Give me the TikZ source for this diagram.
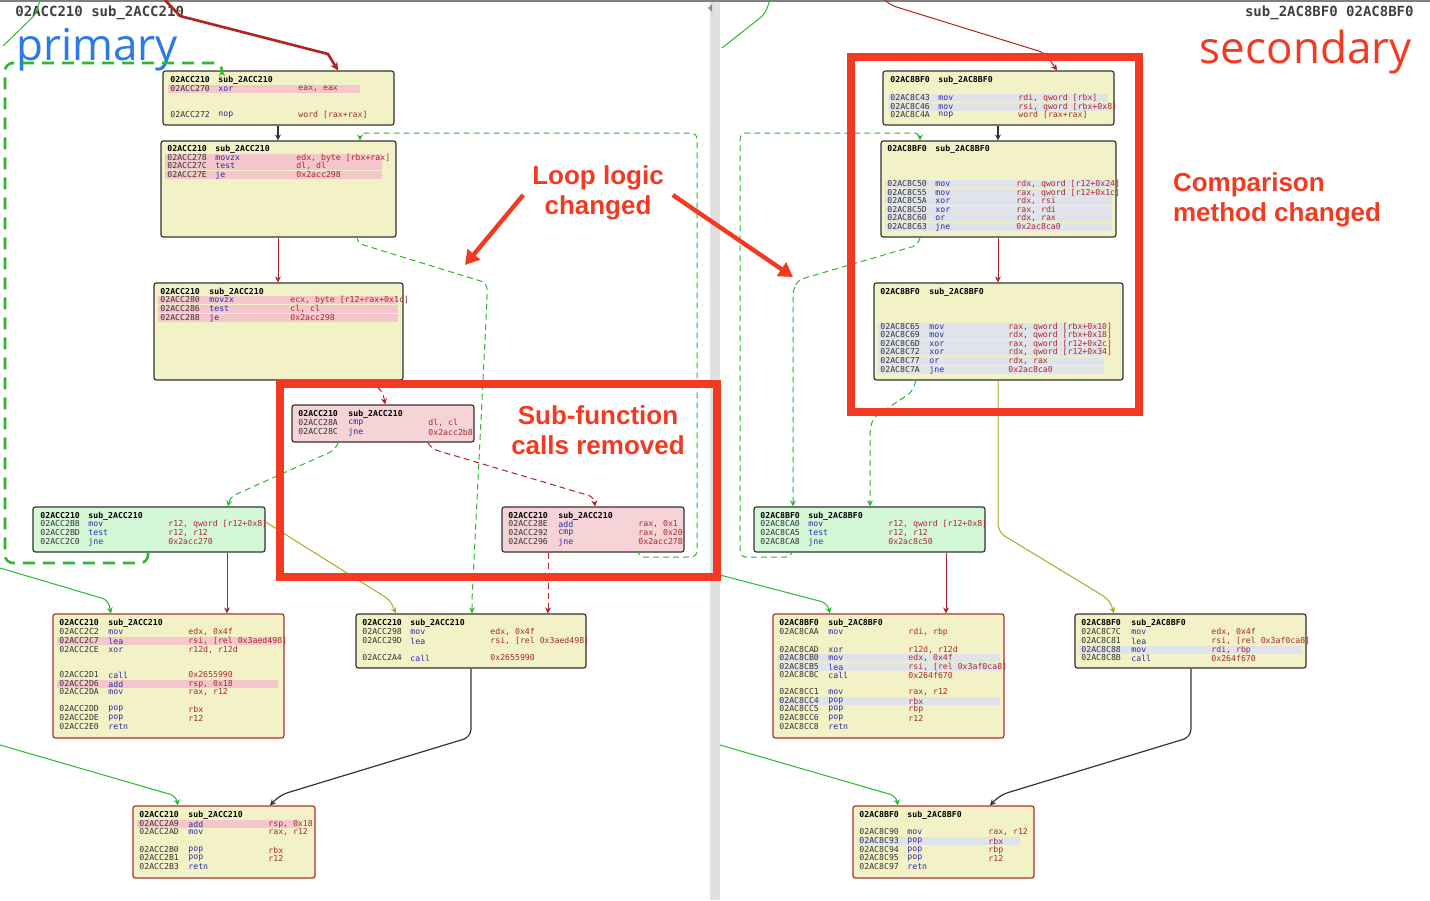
\documentclass[tikz,border=0pt]{standalone}
\usepackage{fontspec}
\setmainfont{Liberation Sans}
\newfontfamily\mono{DejaVu Sans Mono}
\newfontfamily\titlefont{Open Sans}
\usetikzlibrary{arrows.meta,fit}
\definecolor{yfill}{HTML}{F2F2C6}
\definecolor{gfill}{HTML}{D4F7D8}
\definecolor{pfill}{HTML}{F5D3D6}
\definecolor{phl}{HTML}{F5C6CB}
\definecolor{ghl}{HTML}{E0E3EA}
\definecolor{bord}{HTML}{333333}
\definecolor{rbord}{HTML}{A83232}
\definecolor{mncol}{HTML}{2B2BA8}
\definecolor{opcol}{HTML}{A82A2A}
\definecolor{adcol}{HTML}{333333}
\definecolor{egreen}{HTML}{2DB82D}
\definecolor{ered}{HTML}{B22222}
\definecolor{eolive}{HTML}{B0A820}
\definecolor{annred}{HTML}{F23A22}
\definecolor{pblue}{HTML}{2A7BE8}
\newcounter{rc}
\tikzset{
  x=0.5pt,y=-0.5pt,
  blk/.style={draw=bord,line width=0.6pt,rounded corners=1.2pt,inner sep=0pt},
  txt/.style={anchor=west,inner sep=0pt,font=\mono\fontsize{4.1}{4.1}\selectfont},
  tip/.style={-{Stealth[length=3pt,width=3pt]}},
  eg/.style={egreen,line width=0.5pt,tip},
  egd/.style={egreen,line width=0.5pt,dashed,dash pattern=on 3pt off 2pt,tip},
  erd/.style={ered,line width=0.5pt,dashed,dash pattern=on 3pt off 2pt,tip},
  er/.style={ered,line width=0.5pt,tip},
  eo/.style={eolive,line width=0.5pt,tip},
  ek/.style={black!80,line width=0.6pt,tip},
  ann/.style={annred,line width=2.2pt,-{Triangle[length=7pt,width=8pt]}},
  annbox/.style={draw=annred,line width=4pt},
  lab/.style={text=annred,font=\bfseries\fontsize{13}{15}\selectfont,align=center}
}
% column settings
\newcommand\cols[4]{\def\ca{#1}\def\cm{#2}\def\co{#3}\def\he{#4}}
\newcommand\hd[3]{\stepcounter{rc}\node[txt,text=black,font=\mono\bfseries\fontsize{4.1}{4.1}\selectfont] (r\arabic{rc}) at (\ca,#1) {#2};
  \stepcounter{rc}\node[txt,text=black,font=\mono\bfseries\fontsize{4.1}{4.1}\selectfont] (r\arabic{rc}) at (\cm,#1) {#3};}
\newcommand\rw[4]{\stepcounter{rc}\node[txt,text=adcol] (r\arabic{rc}) at (\ca,#1) {#2};
  \stepcounter{rc}\node[txt,text=mncol] (r\arabic{rc}) at (\cm,#1) {#3};
  \stepcounter{rc}\node[txt,text=opcol] (r\arabic{rc}) at (\co,#1) {#4};}
\newcommand\hl[2]{\fill[#2] (\ca-2,#1-4.3) rectangle (\he,#1+4.3);}
\begin{document}
\begin{tikzpicture}
\useasboundingbox (0,0) rectangle (1430,900);
\fill[white] (0,0) rectangle (1430,900);
% separator and top line
\fill[black!12] (710,0) rectangle (720,900);
\fill[black!45] (712,4) -- (712,12) -- (708,8) -- cycle;
\draw[black!50,line width=0.6pt] (0,1) -- (1430,1);
% titles
\node[anchor=west,inner sep=0,text=black!75,font=\mono\bfseries\fontsize{7}{7}\selectfont] (tl) at (15,13) {02ACC210 sub\_2ACC210};
\node[anchor=east,inner sep=0,text=black!75,font=\mono\bfseries\fontsize{7}{7}\selectfont] (tr) at (1414,13) {sub\_2AC8BF0 02AC8BF0};
\node[anchor=west,inner sep=0,text=pblue,font=\titlefont\fontsize{22}{22}\selectfont] (prim) at (16,50) {primary};
\node[anchor=east,inner sep=0,text=annred,font=\titlefont\fontsize{22}{22}\selectfont] (sec) at (1412,52) {secondary};

% ================= LEFT BLOCKS =================
\node[blk,fill=yfill,fit={(163,71)(394,125)}] (L1) {};
\cols{170}{218}{298}{360}\hl{89}{phl}
\hd{80}{02ACC210}{sub\_2ACC210}\rw{89}{02ACC270}{xor}{eax, eax}\rw{115}{02ACC272}{nop}{word [rax+rax]}

\node[blk,fill=yfill,fit={(161,141)(396,237)}] (L2) {};
\cols{167}{215}{296}{382}\hl{158}{phl}\hl{166}{phl}\hl{175}{phl}
\hd{149}{02ACC210}{sub\_2ACC210}\rw{158}{02ACC278}{movzx}{edx, byte [rbx+rax]}\rw{166}{02ACC27C}{test}{dl, dl}\rw{175}{02ACC27E}{je}{0x2acc298}

\node[blk,fill=yfill,fit={(154,283)(403,380)}] (L3) {};
\cols{160}{209}{290}{398}\hl{300}{phl}\hl{309}{phl}\hl{318}{phl}
\hd{292}{02ACC210}{sub\_2ACC210}\rw{300}{02ACC280}{movzx}{ecx, byte [r12+rax+0x1c]}\rw{309}{02ACC286}{test}{cl, cl}\rw{318}{02ACC288}{je}{0x2acc298}

\node[blk,fill=pfill,fit={(292,405)(474,442)}] (L4) {};
\cols{298}{348}{428}{470}
\hd{414}{02ACC210}{sub\_2ACC210}\rw{423}{02ACC28A}{cmp}{dl, cl}\rw{432}{02ACC28C}{jne}{0x2acc2b8}

\node[blk,fill=gfill,fit={(33,507)(265,552)}] (L5) {};
\cols{40}{88}{168}{260}
\hd{516}{02ACC210}{sub\_2ACC210}\rw{524}{02ACC2B8}{mov}{r12, qword [r12+0x8]}\rw{533}{02ACC2BD}{test}{r12, r12}\rw{542}{02ACC2C0}{jne}{0x2acc270}

\node[blk,fill=pfill,fit={(502,507)(684,552)}] (L6) {};
\cols{508}{558}{638}{680}
\hd{516}{02ACC210}{sub\_2ACC210}\rw{524}{02ACC28E}{add}{rax, 0x1}\rw{533}{02ACC292}{cmp}{rax, 0x20}\rw{542}{02ACC296}{jne}{0x2acc278}

\node[blk,draw=rbord,fill=yfill,fit={(53,614)(284,738)}] (L7) {};
\cols{59}{108}{188}{278}\hl{641}{phl}\hl{684}{phl}
\hd{623}{02ACC210}{sub\_2ACC210}\rw{632}{02ACC2C2}{mov}{edx, 0x4f}\rw{641}{02ACC2C7}{lea}{rsi, [rel 0x3aed498]}\rw{650}{02ACC2CE}{xor}{r12d, r12d}
\rw{675}{02ACC2D1}{call}{0x2655990}\rw{684}{02ACC2D6}{add}{rsp, 0x18}\rw{692}{02ACC2DA}{mov}{rax, r12}
\rw{709}{02ACC2DD}{pop}{rbx}\rw{718}{02ACC2DE}{pop}{r12}\rw{727}{02ACC2E0}{retn}{}

\node[blk,fill=yfill,fit={(356,614)(586,668)}] (L8) {};
\cols{362}{410}{490}{580}
\hd{623}{02ACC210}{sub\_2ACC210}\rw{632}{02ACC298}{mov}{edx, 0x4f}\rw{641}{02ACC29D}{lea}{rsi, [rel 0x3aed498]}\rw{658}{02ACC2A4}{call}{0x2655990}

\node[blk,draw=rbord,fill=yfill,fit={(133,806)(315,878)}] (L9) {};
\cols{139}{188}{268}{300}\hl{824}{phl}
\hd{815}{02ACC210}{sub\_2ACC210}\rw{824}{02ACC2A9}{add}{rsp, 0x18}\rw{832}{02ACC2AD}{mov}{rax, r12}
\rw{850}{02ACC2B0}{pop}{rbx}\rw{858}{02ACC2B1}{pop}{r12}\rw{867}{02ACC2B3}{retn}{}

% ================= RIGHT BLOCKS =================
\node[blk,fill=yfill,fit={(883,71)(1114,125)}] (R1) {};
\cols{890}{938}{1018}{1108}\hl{98}{ghl}\hl{107}{ghl}
\hd{80}{02AC8BF0}{sub\_2AC8BF0}\rw{98}{02AC8C43}{mov}{rdi, qword [rbx]}\rw{107}{02AC8C46}{mov}{rsi, qword [rbx+0x8]}\rw{115}{02AC8C4A}{nop}{word [rax+rax]}

\node[blk,fill=yfill,fit={(881,141)(1116,237)}] (R2) {};
\cols{887}{935}{1016}{1112}
\foreach \yy in {184,193,201,210,218,227}{\hl{\yy}{ghl}}
\hd{149}{02AC8BF0}{sub\_2AC8BF0}\rw{184}{02AC8C50}{mov}{rdx, qword [r12+0x24]}\rw{193}{02AC8C55}{mov}{rax, qword [r12+0x1c]}\rw{201}{02AC8C5A}{xor}{rdx, rsi}
\rw{210}{02AC8C5D}{xor}{rax, rdi}\rw{218}{02AC8C60}{or}{rdx, rax}\rw{227}{02AC8C63}{jne}{0x2ac8ca0}

\node[blk,fill=yfill,fit={(874,283)(1123,380)}] (R3) {};
\cols{880}{929}{1008}{1104}
\foreach \yy in {327,335,344,352,361,370}{\hl{\yy}{ghl}}
\hd{292}{02AC8BF0}{sub\_2AC8BF0}\rw{327}{02AC8C65}{mov}{rax, qword [rbx+0x10]}\rw{335}{02AC8C69}{mov}{rdx, qword [rbx+0x18]}\rw{344}{02AC8C6D}{xor}{rax, qword [r12+0x2c]}
\rw{352}{02AC8C72}{xor}{rdx, qword [r12+0x34]}\rw{361}{02AC8C77}{or}{rdx, rax}\rw{370}{02AC8C7A}{jne}{0x2ac8ca0}

\node[blk,fill=gfill,fit={(754,507)(985,552)}] (R4) {};
\cols{760}{808}{888}{980}
\hd{516}{02AC8BF0}{sub\_2AC8BF0}\rw{524}{02AC8CA0}{mov}{r12, qword [r12+0x8]}\rw{533}{02AC8CA5}{test}{r12, r12}\rw{542}{02AC8CA8}{jne}{0x2ac8c50}

\node[blk,draw=rbord,fill=yfill,fit={(773,614)(1004,738)}] (R5) {};
\cols{779}{828}{908}{1000}\hl{658}{ghl}\hl{667}{ghl}\hl{701}{ghl}
\hd{623}{02AC8BF0}{sub\_2AC8BF0}\rw{632}{02AC8CAA}{mov}{rdi, rbp}
\rw{650}{02AC8CAD}{xor}{r12d, r12d}\rw{658}{02AC8CB0}{mov}{edx, 0x4f}\rw{667}{02AC8CB5}{lea}{rsi, [rel 0x3af0ca8]}\rw{675}{02AC8CBC}{call}{0x264f670}
\rw{692}{02AC8CC1}{mov}{rax, r12}\rw{701}{02AC8CC4}{pop}{rbx}\rw{709}{02AC8CC5}{pop}{rbp}\rw{718}{02AC8CC6}{pop}{r12}\rw{727}{02AC8CC8}{retn}{}

\node[blk,fill=yfill,fit={(1075,614)(1306,668)}] (R6) {};
\cols{1081}{1131}{1211}{1302}\hl{650}{ghl}
\hd{623}{02AC8BF0}{sub\_2AC8BF0}\rw{632}{02AC8C7C}{mov}{edx, 0x4f}\rw{641}{02AC8C81}{lea}{rsi, [rel 0x3af0ca8]}\rw{650}{02AC8C88}{mov}{rdi, rbp}\rw{658}{02AC8C8B}{call}{0x264f670}

\node[blk,draw=rbord,fill=yfill,fit={(853,806)(1034,878)}] (R7) {};
\cols{859}{907}{988}{1020}\hl{841}{ghl}
\hd{815}{02AC8BF0}{sub\_2AC8BF0}\rw{832}{02AC8C90}{mov}{rax, r12}\rw{841}{02AC8C93}{pop}{rbx}\rw{850}{02AC8C94}{pop}{rbp}
\rw{858}{02AC8C95}{pop}{r12}\rw{867}{02AC8C97}{retn}{}

% ================= LEFT EDGES =================
\coordinate (tA) at (165,0);
\draw[ered,line width=1.3pt,-{Stealth[length=4pt,width=4pt]}] (tA) -- (180,16) -- (328,54) -- (L1.north -| 338,0);
\draw[ek] (L1.south -| 278,0) -- (L2.north -| 278,0);
\draw[er] (L2.south -| 278,0) -- (L3.north -| 278,0);
\draw[egd,rounded corners=3pt] (L6.south -| 638,0) -- (638,557) -- (697,557) -- (697,133) -- (360,133) -- (L2.north -| 360,0);
\draw[egd,rounded corners=3pt] (L2.south -| 357,0) -- (357,243) -- (487,283) -- (487,300) -- (472,600) -- (L8.north -| 472,0);
\draw[erd,rounded corners=3pt] (L3.south -| 370,0) -- (383,392) -- (L4.north -| 385,0);
\draw[egd,rounded corners=3pt] (L4.south -| 338,0) -- (335,450) -- (230,497) -- (L5.north -| 228,0);
\draw[erd,rounded corners=3pt] (L4.south -| 428,0) -- (432,449) -- (594,497) -- (L6.north -| 595,0);
\draw[erd] (L6.south -| 548,0) -- (L8.north -| 548,0);
\draw[egreen,line width=1.3pt,dashed,dash pattern=on 6pt off 4pt,rounded corners=4pt,-{Stealth[length=3pt,width=3pt]}] (L5.south -| 148,0) -- (148,563) -- (5,563) -- (5,63) -- (222,63) -- (222,70);
\draw[er] (L5.south -| 227,0) -- (L7.north -| 227,0);
\draw[eo,rounded corners=3pt] (L5.east |- 0,522) -- (390,600) -- (L8.north -| 396,0);
\coordinate (gL1) at (0,568);
\draw[eg,rounded corners=3pt] (gL1) -- (108,600) -- (L7.north -| 111,0);
\coordinate (gL2) at (0,745);
\draw[eg,rounded corners=3pt] (gL2) -- (176,796) -- (L9.north -| 178,0);
\draw[ek,rounded corners=4pt] (L8.south -| 471,0) -- (471,737) -- (280,795) -- (L9.north -| 270,0);
\coordinate (gT1) at (3,46);
\coordinate (gT1b) at (40,0);
\draw[egreen,line width=0.5pt,rounded corners=3pt] (gT1) -- (36,14) -- (gT1b);

% ================= RIGHT EDGES =================
\coordinate (tB) at (885,0);
\draw[er,rounded corners=3pt] (tB) -- (890,5) -- (1045,53) -- (R1.north -| 1057,0);
\draw[ek] (R1.south -| 998,0) -- (R2.north -| 998,0);
\draw[er] (R2.south -| 998,0) -- (R3.north -| 998,0);
\draw[egd,rounded corners=3pt] (R2.south -| 920,0) -- (918,245) -- (798,280) -- (793,290) -- (R4.north -| 793,0);
\draw[egd,rounded corners=3pt] (R3.south -| 916,0) -- (912,392) -- (873,418) -- (870,430) -- (R4.north -| 870,0);
\draw[egd,rounded corners=3pt] (R4.south -| 792,0) -- (792,557) -- (740,557) -- (740,133) -- (920,133) -- (R2.north -| 920,0);
\draw[er] (R4.south -| 946,0) -- (R5.north -| 946,0);
\draw[eo,rounded corners=4pt] (R3.south -| 998,0) -- (998,532) -- (1110,600) -- (R6.north -| 1114,0);
\coordinate (gR1) at (720,575);
\draw[eg,rounded corners=3pt] (gR1) -- (827,603) -- (R5.north -| 830,0);
\coordinate (gR2) at (720,745);
\draw[eg,rounded corners=3pt] (gR2) -- (896,796) -- (R7.north -| 898,0);
\draw[ek,rounded corners=4pt] (R6.south -| 1191,0) -- (1191,737) -- (1000,795) -- (R7.north -| 990,0);
\coordinate (gT2) at (722,48);
\coordinate (gT2b) at (770,0);
\draw[egreen,line width=0.5pt,rounded corners=3pt] (gT2) -- (765,14) -- (gT2b);

% ================= ANNOTATIONS =================
\node[annbox,fit={(280,384)(717,577)},inner sep=0] (boxL) {};
\node[annbox,fit={(851,57)(1139,412)},inner sep=0] (boxR) {};
\node[lab] (labLoop) at (598,193) {Loop logic\\changed};
\node[lab] (labSub) at (598,430) {Sub-function\\calls removed};
\node[lab,align=left,anchor=west] (labCmp) at (1166,200) {Comparison\\method changed};
\draw[ann] (labLoop.west |- 0,195) ++(-2,0) -- (465,265);
\draw[ann] (labLoop.east |- 0,195) ++(2,0) -- (793,277);
\end{tikzpicture}
\end{document}
